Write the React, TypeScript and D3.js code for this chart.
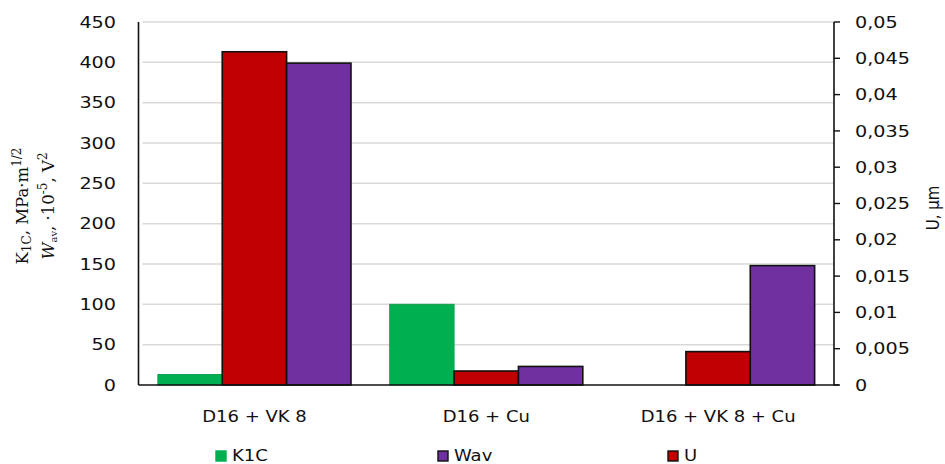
import React from "react";
import * as d3 from "d3";

const categories = ["D16 + VK 8", "D16 + Cu", "D16 + VK 8 + Cu"];
const seriesNames = ["K1C", "U", "Wav"];
const k1cValues = [13, 100, 0];
const uValues = [0.0459, 0.00193, 0.0046];
const wavValues = [399, 23, 148];
const leftTicks = [0, 50, 100, 150, 200, 250, 300, 350, 400, 450];
const rightTicks = [0, 0.005, 0.01, 0.015, 0.02, 0.025, 0.03, 0.035, 0.04, 0.045, 0.05];
const legendItems = ["K1C", "Wav", "U"];

const W = 945;
const H = 464;
const plot = { left: 138.5, right: 834, top: 22, bottom: 385 };

const colors: Record<string, string> = {
  K1C: "#00B050",
  U: "#C00000",
  Wav: "#7030A0",
};
const strokes: Record<string, string> = {
  K1C: "#12a050",
  U: "#111",
  Wav: "#111",
};

const fmtRight = (v: number) => (v === 0 ? "0" : String(+v.toFixed(3)).replace(".", ","));

const font = "'DejaVu Sans', Verdana, sans-serif";
const serif = "'DejaVu Serif', 'Liberation Serif', serif";
const SX = 1.2;

function Label(props: { x: number; y: number; anchor?: string; size?: number; children: React.ReactNode }) {
  const { x, y, anchor = "start", size = 16, children } = props;
  return (
    <text
      transform={`translate(${x},${y}) scale(${SX},1)`}
      dy="0.35em"
      textAnchor={anchor}
      fontFamily={font}
      fontSize={size}
      fill="#111"
    >
      {children}
    </text>
  );
}

export default function App() {
  const x0 = d3
    .scaleBand<string>()
    .domain(categories)
    .range([plot.left, plot.right])
    .paddingInner(0.167)
    .paddingOuter(0.0835);
  const x1 = d3.scaleBand<string>().domain(seriesNames).range([0, x0.bandwidth()]);
  const yL = d3.scaleLinear().domain([0, 450]).range([plot.bottom, plot.top]);
  const yR = d3.scaleLinear().domain([0, 0.05]).range([plot.bottom, plot.top]);

  const bars: { key: string; cat: string; y: number }[] = [];
  categories.forEach((c, i) => {
    bars.push({ key: "K1C", cat: c, y: yL(k1cValues[i]) });
    bars.push({ key: "U", cat: c, y: yR(uValues[i]) });
    bars.push({ key: "Wav", cat: c, y: yL(wavValues[i]) });
  });

  const legendX = [216, 438, 668];

  return (
    <svg width={W} height={H} style={{ position: "absolute", left: 0, top: 0, background: "#fff" }}>
      <rect width={W} height={H} fill="#fff" />
      {/* gridlines */}
      {leftTicks.slice(1).map((t) => (
        <line key={t} x1={plot.left + 4} x2={plot.right} y1={yL(t)} y2={yL(t)} stroke="#d9d9d9" strokeWidth={1.5} />
      ))}
      {/* bars */}
      {bars.map((b, i) => {
        const h = plot.bottom - b.y;
        if (h <= 0) return null;
        return (
          <rect
            key={i}
            x={(x0(b.cat) ?? 0) + (x1(b.key) ?? 0)}
            y={b.y}
            width={x1.bandwidth()}
            height={h}
            fill={colors[b.key]}
            stroke={strokes[b.key]}
            strokeWidth={b.key === "K1C" ? 1 : 1.6}
          />
        );
      })}
      {/* axes */}
      <line x1={plot.left} x2={plot.left} y1={plot.top} y2={plot.bottom} stroke="#111" strokeWidth={1.6} />
      <line x1={plot.right} x2={plot.right} y1={plot.top} y2={plot.bottom} stroke="#111" strokeWidth={1.6} />
      <line x1={plot.left} x2={plot.right + 5} y1={plot.bottom} y2={plot.bottom} stroke="#111" strokeWidth={1.6} />
      {leftTicks.map((t) => (
        <Label key={t} x={116} y={yL(t)} anchor="end">
          {t}
        </Label>
      ))}
      {rightTicks.map((t) => (
        <g key={t}>
          <line x1={plot.right} x2={plot.right + 6} y1={yR(t)} y2={yR(t)} stroke="#111" strokeWidth={1.4} />
          <Label x={855} y={yR(t)}>
            {fmtRight(t)}
          </Label>
        </g>
      ))}
      {/* category labels */}
      {categories.map((c) => (
        <Label key={c} x={(x0(c) ?? 0) + x0.bandwidth() / 2} y={417} anchor="middle" size={15}>
          {c}
        </Label>
      ))}
      {/* axis titles */}
      <g transform={`translate(22,206) rotate(-90)`} fontFamily={serif} fontSize={16.5} fill="#111">
        <text textAnchor="middle" dy="0.35em">
          K<tspan fontSize={12} dy="3">1C</tspan>
          <tspan dy="-3">, MPa·m</tspan>
          <tspan fontSize={12} dy="-7">1/2</tspan>
        </text>
      </g>
      <g transform={`translate(48,206) rotate(-90)`} fontFamily={serif} fontSize={16.5} fill="#111">
        <text textAnchor="middle" dy="0.35em">
          <tspan fontStyle="italic">W</tspan>
          <tspan fontSize={10} dy="3">av</tspan>
          <tspan dy="-3">, ·10</tspan>
          <tspan fontSize={12} dy="-7">-5</tspan>
          <tspan dy="7">, V</tspan>
          <tspan fontSize={12} dy="-7">2</tspan>
        </text>
      </g>
      <text
        transform={`translate(933,208) rotate(-90) scale(1,${SX})`}
        textAnchor="middle"
        dy="0.35em"
        fontFamily={font}
        fontSize={15}
        fill="#111"
      >
        U, µm
      </text>
      {/* legend */}
      {legendItems.map((k, i) => (
        <g key={k}>
          <rect
            x={legendX[i]}
            y={451}
            width={10}
            height={10}
            fill={colors[k]}
            stroke={k === "K1C" ? colors[k] : "#111"}
            strokeWidth={1.4}
          />
          <Label x={legendX[i] + 16} y={456} size={15}>
            {k}
          </Label>
        </g>
      ))}
    </svg>
  );
}
